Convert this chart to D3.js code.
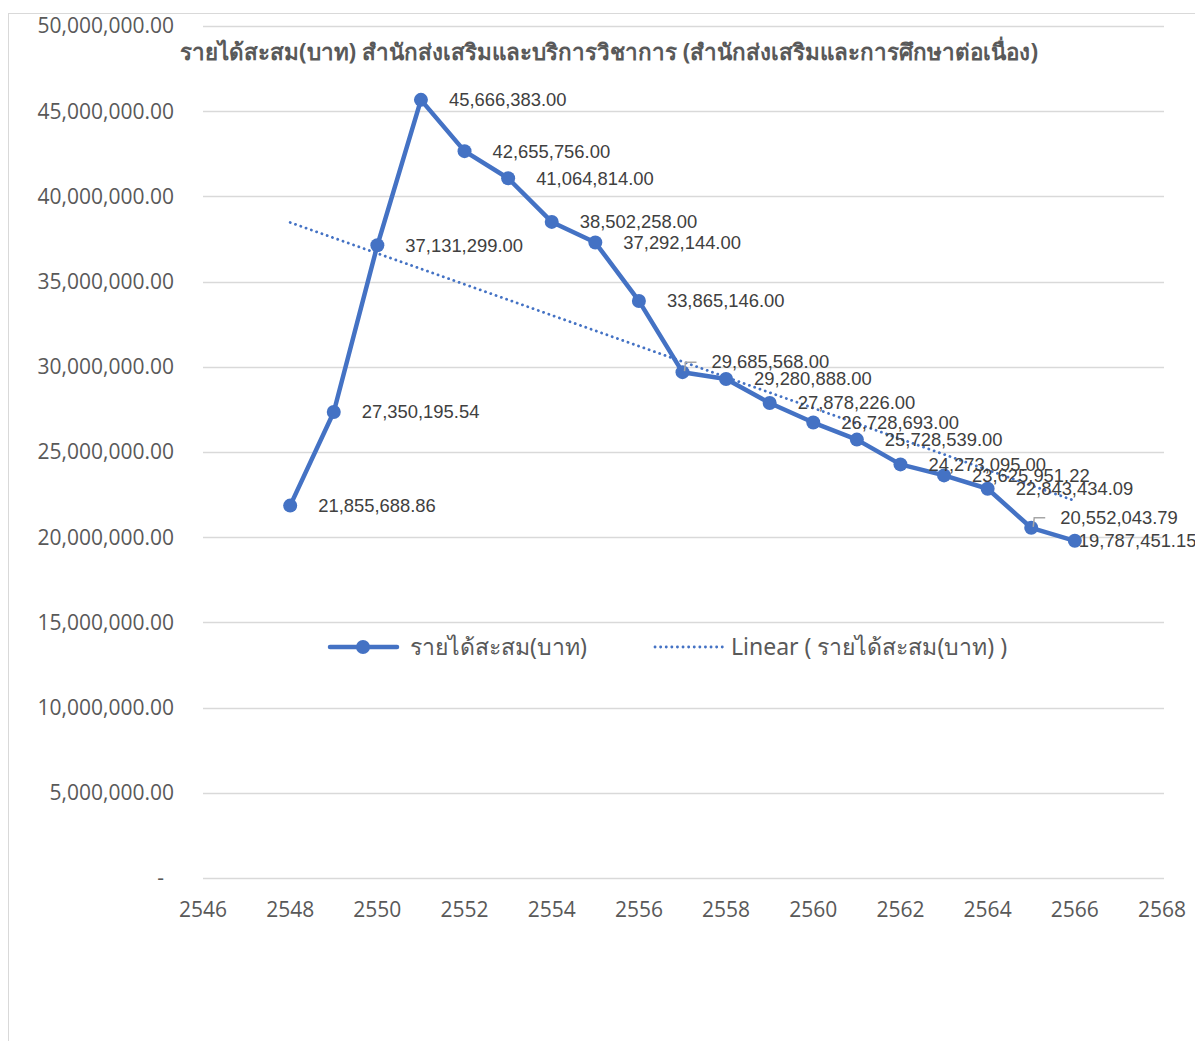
<!DOCTYPE html>
<html lang="th">
<head>
<meta charset="UTF-8">
<title>รายได้สะสม</title>
<script src="https://d3js.org/d3.v7.min.js"></script>
<style>
  body { margin: 0; background: #fff; }
  svg { display: block; }
</style>
</head>
<body>
<div id="chart"></div>
<script>
// ข้อมูล
const years = [2548, 2549, 2550, 2551, 2552, 2553, 2554, 2555, 2556, 2557,
               2558, 2559, 2560, 2561, 2562, 2563, 2564, 2565, 2566];
const income = [21855688.86, 27350195.54, 37131299.00, 45666383.00, 42655756.00,
                41064814.00, 38502258.00, 37292144.00, 33865146.00, 29685568.00,
                29280888.00, 27878226.00, 26728693.00, 25728539.00, 24273095.00,
                23625951.22, 22843434.09, 20552043.79, 19787451.15];
const xTicks = d3.range(2546, 2569, 2);
const yTicks = d3.range(0, 50000001, 5000000);
const title = "รายได้สะสม(บาท) สำนักส่งเสริมและบริการวิชาการ (สำนักส่งเสริมและการศึกษาต่อเนื่อง)";
const seriesName = "รายได้สะสม(บาท)";
const trendName = "Linear ( รายได้สะสม(บาท) )";

const W = 1195, H = 1041;
const blue = "#4472C4";
const svg = d3.select("#chart").append("svg")
  .attr("width", W).attr("height", H);

// กรอบแผนภูมิ
svg.append("rect")
  .attr("x", 8.5).attr("y", 13.5)
  .attr("width", 1300).attr("height", 1100)
  .attr("fill", "none").attr("stroke", "#d9d9d9");

const x = d3.scaleLinear().domain([2546, 2568]).range([203, 1162]);
const y = d3.scaleLinear().domain([0, 50000000]).range([878, 26]);

// เส้นกริด
svg.append("g").selectAll("line")
  .data(yTicks).enter().append("line")
  .attr("x1", 203).attr("x2", 1164)
  .attr("y1", d => Math.round(y(d)) + 0.5)
  .attr("y2", d => Math.round(y(d)) + 0.5)
  .attr("stroke", "#d9d9d9").attr("stroke-width", 1.5);

const fmt = d3.format(",.2f");
const axisFont = "'Open Sans', 'Noto Sans', sans-serif";

// แกน Y
svg.append("g").selectAll("text")
  .data(yTicks).enter().append("text")
  .attr("x", d => d === 0 ? 164 : 174)
  .attr("y", d => y(d))
  .attr("dy", "0.35em")
  .attr("text-anchor", "end")
  .attr("font-family", axisFont)
  .attr("font-size", 21)
  .attr("fill", "#595959")
  .text(d => d === 0 ? "-" : fmt(d));

// แกน X
svg.append("g").selectAll("text")
  .data(xTicks).enter().append("text")
  .attr("x", d => x(d))
  .attr("y", 910)
  .attr("dy", "0.35em")
  .attr("text-anchor", "middle")
  .attr("font-family", axisFont)
  .attr("font-size", 21)
  .attr("fill", "#595959")
  .text(d => d);

// ชื่อแผนภูมิ
svg.append("text")
  .attr("x", 609).attr("y", 52)
  .attr("dy", "0.35em")
  .attr("text-anchor", "middle")
  .attr("font-family", "'Noto Sans', sans-serif")
  .attr("font-weight", "bold")
  .attr("font-size", 22.4)
  .attr("fill", "#595959")
  .text(title);

// เส้นแนวโน้ม (linear least squares)
const pts = years.map((d, i) => [d, income[i]]);
const mx = d3.mean(years), my = d3.mean(income);
const slope = d3.sum(pts, p => (p[0] - mx) * (p[1] - my)) / d3.sum(pts, p => (p[0] - mx) ** 2);
const icpt = my - slope * mx;
const x0 = d3.min(years), x1 = d3.max(years);
svg.append("line")
  .attr("x1", x(x0)).attr("y1", y(icpt + slope * x0))
  .attr("x2", x(x1)).attr("y2", y(icpt + slope * x1))
  .attr("stroke", blue).attr("stroke-width", 2.8)
  .attr("stroke-linecap", "round")
  .attr("stroke-dasharray", "0.1 5.5");

// เส้นข้อมูล
const line = d3.line().x(d => x(d[0])).y(d => y(d[1]));
svg.append("path")
  .datum(pts)
  .attr("d", line)
  .attr("fill", "none")
  .attr("stroke", blue).attr("stroke-width", 4.5)
  .attr("stroke-linejoin", "round");

svg.append("g").selectAll("circle")
  .data(pts).enter().append("circle")
  .attr("cx", d => x(d[0])).attr("cy", d => y(d[1]))
  .attr("r", 7).attr("fill", blue);

// ป้ายข้อมูล (บางป้ายถูกเลื่อนตำแหน่ง)
const moved = { 2557: [29, -11], 2565: [29, -10], 2566: [4, 0] };
const leader = { 2557: true, 2565: true };
svg.append("g").selectAll("path")
  .data(pts.filter(d => leader[d[0]])).enter().append("path")
  .attr("d", d => {
    const px = x(d[0]), py = y(d[1]);
    return `M${px + 2},${py - 1}L${px + 3},${py - 10}L${px + 14},${py - 10}`;
  })
  .attr("fill", "none").attr("stroke", "#a6a6a6").attr("stroke-width", 1.5);

svg.append("g").selectAll("text")
  .data(pts).enter().append("text")
  .attr("x", d => x(d[0]) + (moved[d[0]] ? moved[d[0]][0] : 28))
  .attr("y", d => y(d[1]) + (moved[d[0]] ? moved[d[0]][1] : 0))
  .attr("dy", "0.35em")
  .attr("font-family", "'Liberation Sans', Arial, sans-serif")
  .attr("font-size", 18.4)
  .attr("fill", "#404040")
  .text(d => fmt(d[1]));

// คำอธิบาย
const leg = svg.append("g");
leg.append("line").attr("x1", 330).attr("x2", 397).attr("y1", 647).attr("y2", 647)
  .attr("stroke", blue).attr("stroke-width", 4.5).attr("stroke-linecap", "round");
leg.append("circle").attr("cx", 363).attr("cy", 647).attr("r", 7).attr("fill", blue);
leg.append("text").attr("x", 410).attr("y", 647).attr("dy", "0.35em")
  .attr("font-family", "'Noto Sans', sans-serif").attr("font-size", 23)
  .attr("fill", "#595959").text(seriesName);
leg.append("line").attr("x1", 655).attr("x2", 723).attr("y1", 647).attr("y2", 647)
  .attr("stroke", blue).attr("stroke-width", 2.8)
  .attr("stroke-linecap", "round").attr("stroke-dasharray", "0.1 5.5");
leg.append("text").attr("x", 731).attr("y", 647).attr("dy", "0.35em")
  .attr("font-family", "'Noto Sans', sans-serif").attr("font-size", 23)
  .attr("fill", "#595959").text(trendName);
</script>
</body>
</html>
